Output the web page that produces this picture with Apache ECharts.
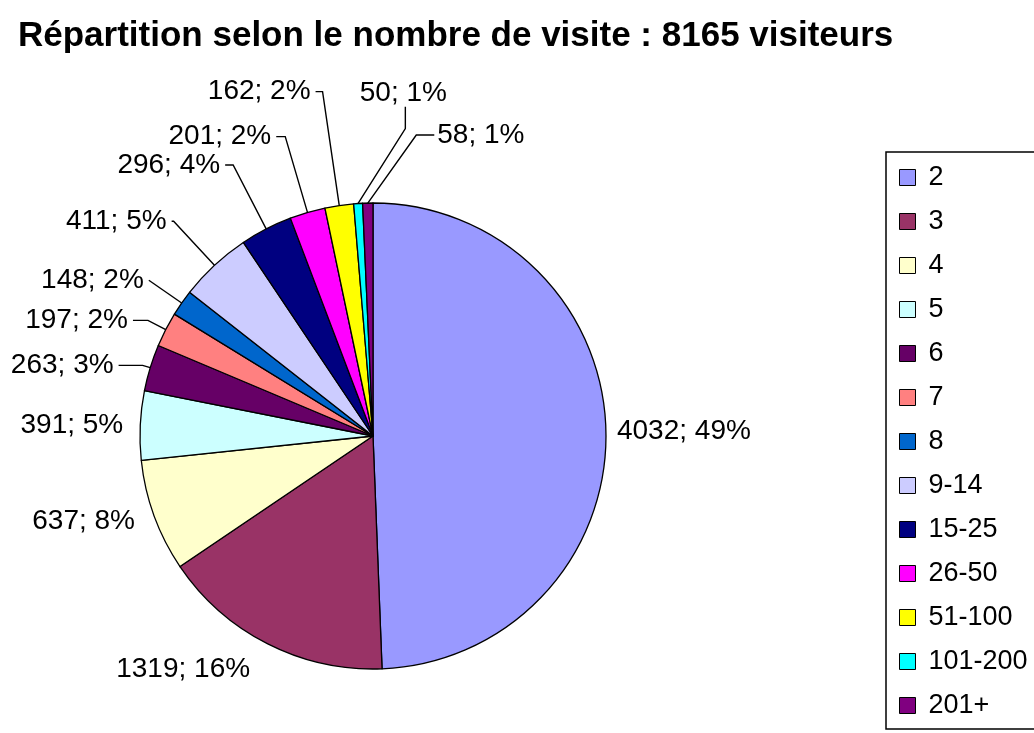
<!DOCTYPE html>
<html><head><meta charset="utf-8">
<script src="https://cdn.jsdelivr.net/npm/echarts@6/dist/echarts.min.js"></script>
<style>html,body{margin:0;padding:0;background:#fff}#c{width:1034px;height:733px}</style>
</head><body><div id="c"></div>
<script>
const titleText = 'Répartition selon le nombre de visite : 8165 visiteurs';
const categories = ['2','3','4','5','6','7','8','9-14','15-25','26-50','51-100','101-200','201+'];
const visitors = [4032,1319,637,391,263,197,148,411,296,201,162,50,58];
const colors = ['#9999FF','#993366','#FFFFCC','#CCFFFF','#660066','#FF8080','#0066CC','#CCCCFF','#000080','#FF00FF','#FFFF00','#00FFFF','#800080'];
// leader line styling per slice
const leaderLen  = [0, 28, 15, 0, 8, 20, 40, 60, 72, 79, 115, 75, 68];
const leaderLen2 = [6, 0, 0, 12, 24, 15, 0, 2, 8, 9, 7, 0, 0];
const leaderShow = [false, false, false, false, true, true, true, true, true, true, true, true, true];

const total = visitors.reduce((a, b) => a + b, 0);
const FONT = '"Liberation Sans", Arial, sans-serif';

const data = categories.map((name, i) => ({
  name: name,
  value: visitors[i],
  itemStyle: { color: colors[i] },
  labelLine: { show: leaderShow[i], length: leaderLen[i], length2: leaderLen2[i] }
}));

const chart = echarts.init(document.getElementById('c'), null, { renderer: 'canvas' });
chart.setOption({
  backgroundColor: '#ffffff',
  animation: false,
  title: {
    text: titleText,
    left: 13, top: 14,
    textStyle: { fontFamily: FONT, fontSize: 35, fontWeight: 'bold', color: '#000' }
  },
  legend: {
    orient: 'vertical',
    left: 886, top: 152,
    padding: [12, 30, 10, 13],
    borderColor: '#000', borderWidth: 1.5,
    itemWidth: 16, itemHeight: 16, itemGap: 17,
    icon: 'rect',
    itemStyle: { borderColor: '#000', borderWidth: 1 },
    textStyle: { fontFamily: FONT, fontSize: 27, lineHeight: 27, color: '#000', padding: [0, 0, 0, 8] },
    selectedMode: false,
    data: categories
  },
  series: [{
    type: 'pie',
    center: [373, 436],
    radius: 233,
    startAngle: 90,
    clockwise: true,
    avoidLabelOverlap: false,
    silent: true,
    itemStyle: { borderColor: '#000', borderWidth: 1.3 },
    emphasis: { disabled: true },
    label: {
      show: true,
      position: 'outside',
      fontFamily: FONT, fontSize: 28, color: '#000',
      distanceToLabelLine: 5,
      formatter: p => p.value + '; ' + Math.round(p.value / total * 100) + '%'
    },
    labelLine: { lineStyle: { color: '#000', width: 1.4 }, minTurnAngle: 0, maxSurfaceAngle: 180 },
    labelLayout: function (params) {
      const pts = params.labelLinePoints;
      if (!pts) return {};
      const p1 = pts[0], p2 = pts[1];
      if (params.dataIndex === 12) {
        const q2 = [p2[0] + 50, p2[1]];
        const q3 = [q2[0] + 18, q2[1]];
        return { x: q3[0] + 3, y: q3[1], align: 'left', verticalAlign: 'middle', labelLinePoints: [p1, q2, q3] };
      }
      if (params.dataIndex === 11) {
        const q2 = [p2[0] + 52, p2[1]];
        const q3 = [q2[0], q2[1] - 22];
        return { x: q3[0] - 2, y: q3[1] + 1, align: 'center', verticalAlign: 'bottom', labelLinePoints: [p1, q2, q3] };
      }
      return {};
    },
    data: data
  }]
});
</script></body></html>
